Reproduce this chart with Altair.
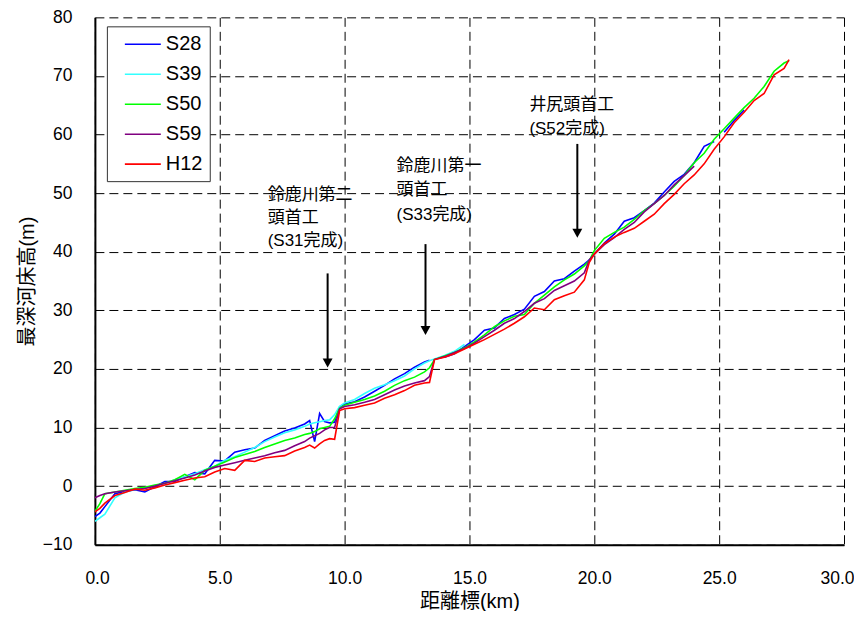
import altair as alt
import pandas as pd

# distance marks (km)
KM = [0.0, 0.2, 0.4,
      0.8, 1.2, 1.6, 2.0, 2.4, 2.8, 3.2, 3.6, 4.0, 4.4, 4.8, 5.2, 5.6, 6.0, 6.4, 6.8, 7.2, 7.6, 8.0, 8.4,
      8.6, 8.8, 9.0, 9.2, 9.4, 9.6, 9.8, 10.0,
      10.4, 10.8, 11.2, 11.6, 12.0, 12.4, 12.8, 13.2,
      13.4, 13.6,
      14.0, 14.4, 14.8, 15.2, 15.6, 16.0, 16.4, 16.8, 17.2, 17.6, 18.0, 18.4, 18.8, 19.2, 19.6,
      19.8, 20.0,
      20.4, 20.8, 21.2, 21.6, 22.0, 22.4, 22.8, 23.2, 23.6, 24.0, 24.4, 24.8, 25.2, 25.6, 26.0, 26.4, 26.8, 27.2, 27.6,
      27.8]

N = None
S28 = [-5.2, -4.6, -3.5,
       -1.3, -0.9, -0.6, -1.0, -0.1, 0.8, 0.8, 1.6, 2.3, 2.1, 4.4, 4.3, 5.8, 6.2, 6.5, 7.8, 8.6, 9.4, 9.9, 10.6,
       11.2, 7.6, 12.4, 11.0, 10.8, 10.9, 13.5, 14.0,
       14.4, 15.2, 16.2, 17.2, 18.3, 19.2, 20.3, 21.2,
       21.5, N,
       22.0, 22.6, 23.8, 25.0, 26.6, 27.0, 28.6, 29.3, 30.2, 32.4, 33.2, 35.0, 35.4, 36.7, 37.9,
       38.6, 39.6,
       41.5, 43.0, 45.2, 45.8, 47.0, 48.3, 50.2, 52.0, 53.2, 55.2, 58.0, 58.8, 60.4, 62.4, 64.2, N, N, N, N,
       N]
S39 = [-6.0, -5.4, -4.8,
       -2.0, -1.0, -0.6, -0.3, 0.1, 0.4, 1.1, 1.6, 2.1, 2.8, 3.4, 4.4, 5.0, 5.8, 6.6, 7.6, 8.4, 9.1, 9.6, 10.2,
       10.6, 10.8, 11.0, 11.2, 11.3, 12.2, 13.6, 14.2,
       14.8, 15.8, 16.7, 17.3, 18.0, 18.8, 20.0, 21.0,
       21.4, 21.7,
       22.3, 23.0, 24.2, N, N, N, N, N, N, N, N, N, N, N, N,
       N, N,
       N, N, N, N, N, N, N, N, N, N, N, N, N, N, N, N, N, N, N,
       N]
S50 = [-4.3, -3.0, -1.3,
       -1.0, -0.7, -0.4, -0.2, 0.2, 0.5, 1.1, 2.0, 1.1, 2.7, 3.4, 4.1, 4.9, 5.4, 5.9, 6.6, 7.2, 7.8, 8.2, 8.8,
       9.0, 9.3, 9.8, 10.0, 10.2, 11.5, 13.3, 13.8,
       14.3, 14.8, 15.4, 16.2, 17.2, 18.0, 18.6, 19.5,
       20.2, 21.6,
       22.2, 22.8, 23.6, 24.6, 25.8, 27.2, 28.2, 29.0, 29.3, 31.2, 32.6, 34.0, 35.2, 36.2, 37.6,
       38.5, 40.2,
       42.3, 43.3, 44.2, 45.5, 47.0, 48.2, 49.6, 51.2, 53.0, 55.2, 56.8, 59.2, 61.0, 62.8, 64.6, 66.2, 68.2, 70.8, 72.2,
       72.6]
S59 = [-2.0, -1.6, -1.3,
       -1.0, -0.8, -0.6, -0.4, 0.0, 0.5, 0.9, 1.4, 1.9, 2.6, 3.2, 3.6, 4.0, 4.4, 4.8, 5.2, 5.7, 6.1, 6.9, 7.6,
       8.2, 8.6, 9.0, 9.6, 10.0, 10.0, 13.2, 13.6,
       13.9, 14.3, 14.8, 15.6, 16.4, 17.1, 17.6, 18.0,
       18.7, 21.6,
       22.1, 22.8, 23.5, 24.4, 25.5, 26.6, 27.8, 28.6, 29.8, 31.2, 32.0, 33.4, 34.2, 35.0, 36.4,
       38.6, 39.6,
       41.2, 42.4, 43.8, 45.0, 46.8, 48.2, 49.6, 51.4, 53.0, 54.6, N, N, N, N, N, N, N, N, N,
       N]
H12 = [-4.4, -3.8, -2.9,
       -1.6, -1.1, -0.5, -0.7, -0.3, 0.2, 0.6, 1.0, 1.4, 1.6, 2.4, 3.0, 2.7, 4.4, 4.2, 4.8, 5.0, 5.2, 6.0, 6.6,
       7.0, 6.5, 7.2, 7.8, 8.1, 8.0, 12.9, 13.2,
       13.4, 13.8, 14.2, 15.0, 15.6, 16.3, 17.2, 17.6,
       17.7, 21.6,
       22.0, 22.6, 23.4, 24.2, 25.0, 25.9, 26.8, 27.8, 28.9, 30.4, 30.1, 31.8, 32.5, 33.1, 35.2,
       38.2, 39.6,
       41.4, 42.5, 43.3, 44.0, 45.2, 46.4, 48.2, 49.8, 51.6, 53.1, 55.0, 57.5, 59.6, 62.0, 63.8, 65.8, 67.0, 70.2, 71.3,
       72.8]

SERIES = ["S28", "S39", "S50", "S59", "H12"]
COLORS = ["#0000FF", "#33FFFF", "#00FF00", "#800080", "#FF0000"]
VALUES = [S28, S39, S50, S59, H12]
# line breaks (the line is interrupted after these km marks)
GAPS = {"S28": [24.8]}

# annotations
ANN_TEXT = ["鈴鹿川第二", "頭首工", "(S31完成)",
            "鈴鹿川第一", "頭首工", "(S33完成)",
            "井尻頭首工", "(S52完成)"]
ANN_KM = [6.92, 6.92, 6.92, 12.08, 12.08, 12.08, 17.4, 17.4]
ANN_Z = [49.75, 45.84, 41.77, 54.67, 50.6, 46.35, 65.0, 60.95]

ARROW_KM = [9.32, 13.24, 19.32]
ARROW_TOP = [36.3, 41.3, 58.4]
ARROW_SHAFT_END = [21.5, 27.1, 43.7]
ARROW_TIP = [20.25, 25.8, 42.4]

rows = []
for name, vals in zip(SERIES, VALUES):
    assert len(vals) == len(KM), (name, len(vals), len(KM))
    seg = 0
    for k, v in zip(KM, vals):
        if v is None:
            seg += 1
            continue
        rows.append({"km": k, "z": v, "series": name, "seg": f"{name}_{seg}"})
        if k in GAPS.get(name, []):
            seg += 1
df = pd.DataFrame(rows)

ann = pd.DataFrame({"text": ANN_TEXT, "km": ANN_KM, "z": ANN_Z})
arr = pd.DataFrame({"km": ARROW_KM, "top": ARROW_TOP, "end": ARROW_SHAFT_END, "tip": ARROW_TIP})

LATIN = "Liberation Sans, Arial, Noto Sans CJK JP, sans-serif"
CJK = "Liberation Sans, Noto Sans CJK JP, sans-serif"

xscale = alt.Scale(domain=[0, 30], nice=False, zero=False)
yscale = alt.Scale(domain=[-10, 80], nice=False, zero=False)

lines = alt.Chart(df).mark_line(strokeWidth=1.6, clip=True).encode(
    x=alt.X("km:Q", scale=xscale,
            axis=alt.Axis(title="距離標(km)", values=[0, 5, 10, 15, 20, 25, 30], format=".1f",
                          labelPadding=25, titlePadding=4, labelFlush=True, labelFlushOffset=10)),
    y=alt.Y("z:Q", scale=yscale,
            axis=alt.Axis(title="最深河床高(m)", values=[-10, 0, 10, 20, 30, 40, 50, 60, 70, 80],
                          labelPadding=23, titlePadding=5, labelFlush=False)),
    color=alt.Color("series:N", scale=alt.Scale(domain=SERIES, range=COLORS), sort=SERIES,
                    legend=alt.Legend(title=None, orient="none", legendX=12, legendY=9,
                                      symbolType="M-1.8,0L1.8,0", symbolSize=400,
                                      symbolStrokeWidth=1.6,
                                      symbolOffset=18, labelOffset=12,
                                      labelFontSize=20, labelFont=LATIN, labelColor="black",
                                      rowPadding=9, padding=7,
                                      fillColor="white", strokeColor="#333333")),
    detail="seg:N",
    order="km:Q",
)

shafts = alt.Chart(arr).mark_rule(color="black", strokeWidth=2).encode(
    x="km:Q", y="top:Q", y2="end:Q")

heads = alt.Chart(arr).mark_point(shape="M-0.55,-1L0.55,-1L0,0Z", size=324, filled=True,
                                  color="black", opacity=1, strokeWidth=0).encode(
    x="km:Q", y="tip:Q")

texts = alt.Chart(ann).mark_text(align="left", baseline="middle", fontSize=17, font=CJK,
                                 color="black").encode(
    x="km:Q", y="z:Q", text="text:N")

chart = alt.layer(lines, shafts, heads, texts).properties(
    width=750, height=528,
    autosize=alt.AutoSizeParams(type="none"),
    padding={"left": 87, "top": 9, "right": 10, "bottom": 66},
).configure_view(stroke=None).configure_axis(
    grid=True, gridColor="black", gridDash=[9, 5], gridWidth=1, gridOpacity=1,
    domainColor="black", domainWidth=2, ticks=False,
    labelFont=LATIN, labelFontSize=17.5, labelColor="black",
    titleFont=CJK, titleFontSize=20, titleFontWeight="normal", titleColor="black",
)

chart.save("out.html", embed_options={"renderer": "svg", "actions": False})
